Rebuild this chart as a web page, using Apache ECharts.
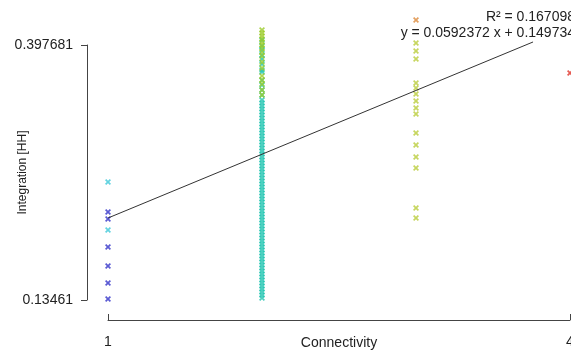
<!DOCTYPE html>
<html>
<head>
<meta charset="utf-8">
<script src="https://cdn.jsdelivr.net/npm/echarts@6/dist/echarts.min.js"></script>
<style>
  html, body { margin: 0; padding: 0; background: #fff; }
  #chart { width: 571px; height: 356px; }
</style>
</head>
<body>
<div id="chart"></div>
<script>
// tick values / labels
const xTicks = [1, 4];
const yTicks = [0.13461, 0.397681];
const yTickLabels = ["0.13461", "0.397681"];

// Connectivity = 1
const conn1Blue = [0.2254, 0.2182, 0.1893, 0.1697, 0.1521, 0.1356];
const conn1Cyan = [0.2563, 0.2068];

// Connectivity = 2 (dense column)
const conn2Teal = [
  0.4029, 0.3967, 0.3925, 0.3874, 0.3833, 0.3781, 0.3719, 0.3698, 0.3613, 0.3564,
  0.3513, 0.3461, 0.3410, 0.3379, 0.3348, 0.3317, 0.3286, 0.3255, 0.3224, 0.3193,
  0.3162, 0.3131, 0.3100, 0.3069, 0.3038, 0.3007, 0.2976, 0.2945, 0.2914, 0.2883,
  0.2852, 0.2821, 0.2791, 0.2760, 0.2729, 0.2698, 0.2667, 0.2636, 0.2605, 0.2574,
  0.2543, 0.2512, 0.2481, 0.2450, 0.2419, 0.2388, 0.2357, 0.2326, 0.2295, 0.2264,
  0.2233, 0.2202, 0.2171, 0.2141, 0.2110, 0.2079, 0.2048, 0.2017, 0.1986, 0.1955,
  0.1924, 0.1893, 0.1862, 0.1831, 0.1800, 0.1769, 0.1738, 0.1707, 0.1676, 0.1645,
  0.1614, 0.1583, 0.1552, 0.1521, 0.1491, 0.1460, 0.1429, 0.1398, 0.1367
];
const conn2Green = [0.4132, 0.4101, 0.4070, 0.4039, 0.4008, 0.3977, 0.3946, 0.3905,
  0.3864, 0.3802, 0.3740, 0.3658, 0.3616, 0.3575, 0.3513, 0.3461];

// Connectivity = 3
const conn3Yellow = [0.3998, 0.3915, 0.3833, 0.3585, 0.3533, 0.3471, 0.3399, 0.3327,
  0.3265, 0.3069, 0.2945, 0.2821, 0.2708, 0.2295, 0.2192];
const conn3Orange = [0.4235];

// Connectivity = 4
const conn4Red = [0.3688];

// fitted line as drawn (start / end)
const fitX = [1, 3.76];
const fitY = [0.2192, 0.4008];
const fitText = ["R\u00b2 = 0.167098", "y = 0.0592372 x + 0.149734"];

const FONT = "Liberation Sans, Arial, sans-serif";
const CROSS = "path://M0,2L2,0L5,3L8,0L10,2L7,5L10,8L8,10L5,7L2,10L0,8L3,5Z";

function scatter(x, values, color) {
  return {
    type: "scatter",
    symbol: CROSS,
    symbolSize: [6, 6],
    clip: false,
    itemStyle: { color: color },
    data: values.map(v => [x, v]),
  };
}

const chart = echarts.init(document.getElementById("chart"));

chart.setOption({
  backgroundColor: "#fff",
  animation: false,
  grid: { left: 108, right: 1, top: 45, bottom: 56, outerBoundsMode: "none", containLabel: false },
  xAxis: {
    type: "value",
    min: 1,
    max: 4,
    offset: 20,
    name: "Connectivity",
    nameLocation: "middle",
    nameGap: 16,
    nameMoveOverlap: false,
    nameTextStyle: { color: "#222", fontSize: 14, fontFamily: FONT },
    splitLine: { show: false },
    axisLine: { lineStyle: { color: "#444", width: 1 } },
    axisTick: { inside: true, length: 6, customValues: xTicks, lineStyle: { color: "#444" } },
    axisLabel: { customValues: xTicks, margin: 15, color: "#222", fontSize: 14, fontFamily: FONT, hideOverlap: false },
  },
  yAxis: {
    type: "value",
    min: yTicks[0],
    max: yTicks[1],
    offset: 21,
    name: "Integration [HH]",
    nameLocation: "middle",
    nameGap: 58,
    nameRotate: 90,
    nameMoveOverlap: false,
    nameTextStyle: { color: "#222", fontSize: 12, fontFamily: FONT },
    splitLine: { show: false },
    axisLine: { show: true, lineStyle: { color: "#444", width: 1 } },
    axisTick: { show: true, length: 6, customValues: yTicks, lineStyle: { color: "#444" } },
    axisLabel: {
      customValues: yTicks,
      margin: 14,
      color: "#222",
      fontSize: 14,
      fontFamily: FONT,
      formatter: v => yTickLabels[yTicks.indexOf(v)] ?? String(v),
    },
  },
  graphic: [
    { type: "text", right: -4, top: 10, style: { text: fitText[0], fill: "#222", font: "14px " + FONT } },
    { type: "text", right: -4, top: 26, style: { text: fitText[1], fill: "#222", font: "14px " + FONT } },
  ],
  series: [
    scatter(1, conn1Blue, "#3232c8"),
    scatter(1, conn1Cyan, "#3cc8d8"),
    scatter(2, conn2Teal, "#22c4b0"),
    scatter(2, conn2Green, "#9acb28"),
    scatter(3, conn3Yellow, "#b9cc38"),
    scatter(3, conn3Orange, "#dc8838"),
    scatter(4, conn4Red, "#e03228"),
    {
      type: "line",
      symbol: "none",
      clip: false,
      silent: true,
      lineStyle: { color: "#333", width: 1 },
      data: fitX.map((x, i) => [x, fitY[i]]),
    },
  ],
});
</script>
</body>
</html>
